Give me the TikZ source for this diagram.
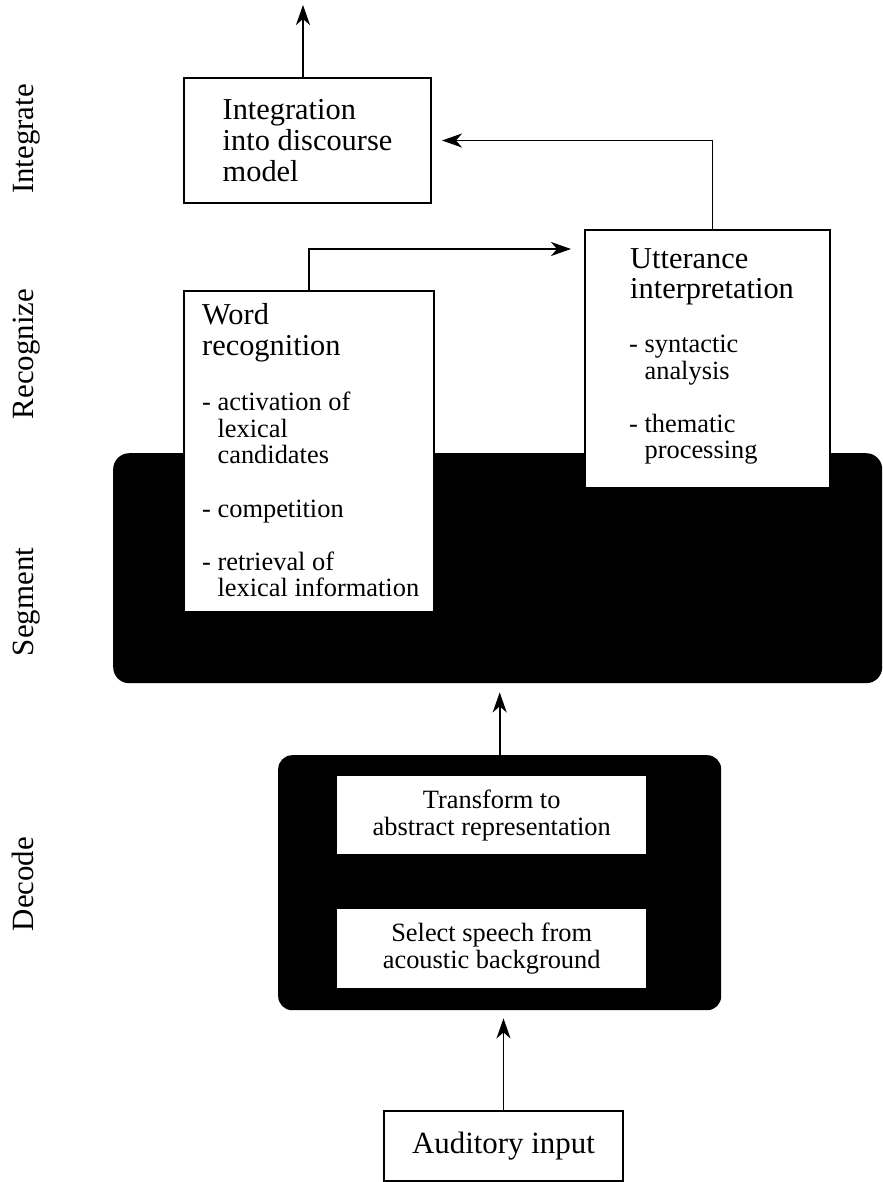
\documentclass[tikz,border=0pt]{standalone}
\usepackage{fontspec}
\setmainfont{Liberation Serif}
\usetikzlibrary{arrows.meta}

\newcommand{\titlesize}{\fontsize{30.5}{31}\selectfont}
\newcommand{\itemsize}{\fontsize{26.5}{26.5}\selectfont}
\newcommand{\decodesize}{\fontsize{26.5}{27}\selectfont}
\newcommand{\stagesize}{\fontsize{31}{33}\selectfont}
\newcommand{\inputsize}{\fontsize{31}{33}\selectfont}
\newcommand{\hangin}{\phantom{- }}

\tikzset{
	box/.style={draw, line width=2bp, fill=white, inner sep=0pt, anchor=north west},
	blackbox/.style={fill=black, rounded corners=16bp, inner sep=0pt, anchor=north west},
	whitebox/.style={fill=white, inner sep=0pt, anchor=north west, align=center, font=\decodesize},
	txt/.style={anchor=north west, align=left, inner sep=0pt},
	stage/.style={rotate=90, anchor=base, font=\stagesize},
	arrow/.style={line width=1.7bp, -{Stealth[length=20bp,width=14bp,inset=6bp]}}
}

\begin{document}
\begin{tikzpicture}[x=1bp, y=-1bp]
			\useasboundingbox (0,0) rectangle (883,1182);
			
			%stage labels
			\node[stage] (lintegrate) at (33,139) {Integrate};
			\node[stage] (lrecognize) at (33,354) {Recognize};
			\node[stage] (lsegment) at (33,602) {Segment};
			\node[stage] (ldecode) at (33,884) {Decode};
			
			%segment and recognize
			\node[blackbox, minimum width=769bp, minimum height=230bp] (seg) at (113,453) {};
			\node[box, minimum width=250bp, minimum height=321bp] (word) at (183,290) {};
			\node[txt, font=\titlesize] (wordtitle) at (202,303) {Word\\recognition};
			\node[txt, font=\itemsize] (worditems) at (202,392) {- activation of\\\hangin lexical\\\hangin candidates\\[27bp]- competition\\[27bp]- retrieval of\\\hangin lexical information};
			
			\node[box, minimum width=245bp, minimum height=258bp] (utter) at (584,229) {};
			\node[txt, font=\titlesize] (uttertitle) at (630,248) {Utterance\\interpretation};
			\node[txt, font=\itemsize] (utteritems) at (629,335) {- syntactic\\\hangin analysis\\[27bp]- thematic\\\hangin processing};
			
			%integrate
			\node[box, align=left, font=\titlesize, minimum width=247bp, minimum height=125bp] (integ) at (183,77) {Integration\\into discourse\\model};
			\coordinate (integout) at (303,5);
			
			%decode
			\node[blackbox, rounded corners=14bp, minimum width=443bp, minimum height=255bp] (decode) at (278,755) {};
			\node[whitebox, minimum width=309bp, minimum height=78bp] (transform) at (337,776) {Transform to\\abstract representation};
			\node[whitebox, minimum width=309bp, minimum height=79bp] (select) at (337,909) {Select speech from\\acoustic background};
			
			\node[box, font=\inputsize, minimum width=239bp, minimum height=70bp] (audin) at (383,1110) {Auditory input};
			
			%connections
			\draw[arrow] (integ.north -| integout) -- (integout);
			\draw[arrow, shorten >=13bp] (word.north) |- ([yshift=-20bp]utter.north west);
			\draw[arrow, shorten >=10bp] ([xshift=5bp]utter.north) |- (integ.east);
			\draw[arrow, shorten >=9bp] (decode.north) -- (decode.north |- seg.south);
			\draw[arrow, shorten >=8bp] (audin.north) -- (audin.north |- decode.south);
\end{tikzpicture}
\end{document}
